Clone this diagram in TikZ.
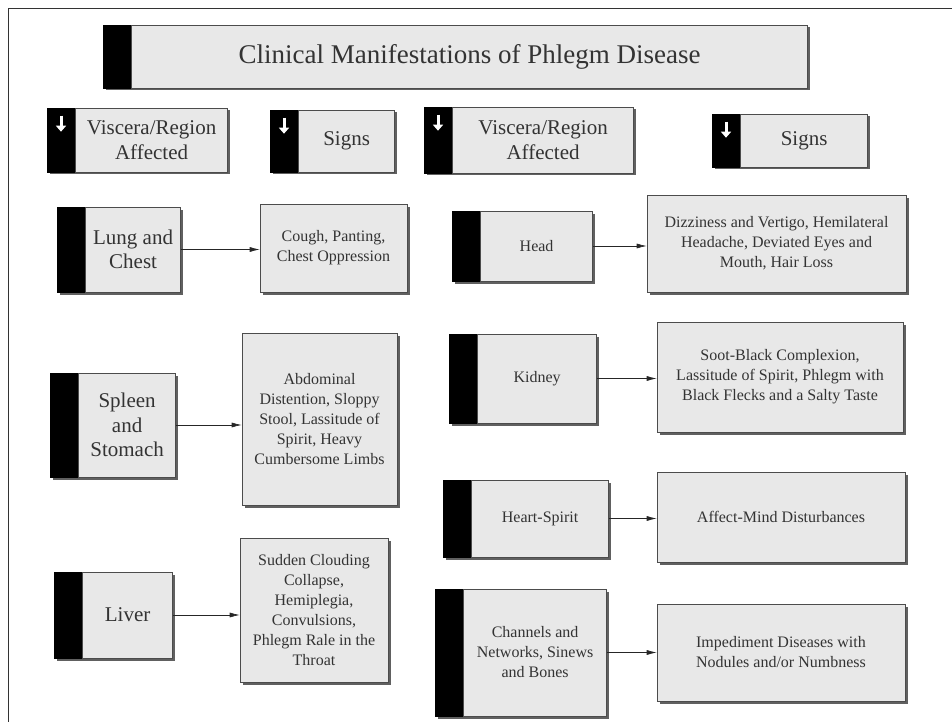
\documentclass[tikz,border=0pt]{standalone}
\usepackage{fontspec}
\setmainfont{Liberation Serif}
\usepackage{tikz}
\usetikzlibrary{arrows.meta,positioning,shadows}

\tikzset{
    card/.style={draw=gray!60!black, fill=gray!18, line width=0.6pt, inner sep=2pt, align=center,
        text=black!80, font=\fontsize{16}{20}\selectfont,
        drop shadow={shadow xshift=2.5pt, shadow yshift=-2.5pt, fill=gray!75!black, opacity=1}},
    tab/.style={draw=black, fill=black, line width=0.6pt, inner sep=0pt, minimum width=28pt,
        drop shadow={shadow xshift=2.5pt, shadow yshift=-2.5pt, fill=gray!75!black, opacity=1}},
    big/.style={font=\fontsize{21}{24.5}\selectfont},
    flow/.style={-{Latex[length=10pt,width=5pt]}, line width=0.6pt, black!85},
    tick/.style={white, line width=3pt, -{Triangle[length=6pt,width=10pt]}}
}

\begin{document}
\begin{tikzpicture}[x=1pt,y=-1pt]
    \useasboundingbox (0,0) rectangle (952,722);
    \draw[black!80, line width=0.8pt] (952,8) -- (8,8) -- (8,722);

    % title
    \node[tab, minimum height=63pt] (titlebar) at (117,56.5) {};
    \node[card, right=0pt of titlebar, minimum width=676pt, minimum height=63pt,
        font=\fontsize{27}{30}\selectfont] (title) {Clinical Manifestations of Phlegm Disease};

    % column heads
    \node[tab, minimum height=64pt] (h1bar) at (61,140) {};
    \node[card, big, right=0pt of h1bar, minimum width=152pt, minimum height=64pt] (h1) {Viscera/Region\\Affected};
    \node[tab, minimum height=62pt] (h2bar) at (284,141) {};
    \node[card, big, right=0pt of h2bar, minimum width=96pt, minimum height=62pt] (h2) {Signs};
    \node[tab, minimum height=66pt] (h3bar) at (438,140) {};
    \node[card, big, right=0pt of h3bar, minimum width=181pt, minimum height=66pt] (h3) {Viscera/Region\\Affected};
    \node[tab, minimum height=53pt] (h4bar) at (726,140.5) {};
    \node[card, big, right=0pt of h4bar, minimum width=127pt, minimum height=53pt] (h4) {Signs};
    \foreach \b in {h1bar,h2bar,h3bar,h4bar}
        \draw[tick] ([yshift=-8pt]\b.north) -- ++(0,-16pt);

    % left half
    \node[tab, minimum height=85pt] (lungbar) at (71,249.5) {};
    \node[card, big, right=0pt of lungbar, minimum width=95pt, minimum height=85pt] (lung) {Lung and\\Chest};
    \node[card, minimum width=147pt, minimum height=88pt] (cough) at (333.5,248) {Cough, Panting,\\Chest Oppression};

    \node[tab, minimum height=104pt] (spleenbar) at (64,425) {};
    \node[card, big, right=0pt of spleenbar, minimum width=97pt, minimum height=104pt] (spleen) {Spleen\\and\\Stomach};
    \node[card, minimum width=155pt, minimum height=172pt] (abdomen) at (319.5,419)
        {Abdominal\\Distention, Sloppy\\Stool, Lassitude of\\Spirit, Heavy\\Cumbersome Limbs};

    \node[tab, minimum height=86pt] (liverbar) at (68,615) {};
    \node[card, big, right=0pt of liverbar, minimum width=90pt, minimum height=86pt] (liver) {Liver};
    \node[card, minimum width=148pt, minimum height=144pt] (clouding) at (314,610)
        {Sudden Clouding\\Collapse,\\Hemiplegia,\\Convulsions,\\Phlegm Rale in the\\Throat};

    % right half
    \node[tab, minimum height=70pt] (headbar) at (466,246) {};
    \node[card, right=0pt of headbar, minimum width=112pt, minimum height=70pt] (head) {Head};
    \node[card, minimum width=259pt, minimum height=97pt] (dizzy) at (776.5,243.5)
        {Dizziness and Vertigo, Hemilateral\\Headache, Deviated Eyes and\\Mouth, Hair Loss};

    \node[tab, minimum height=89pt] (kidneybar) at (463,378.5) {};
    \node[card, right=0pt of kidneybar, minimum width=119pt, minimum height=89pt] (kidney) {Kidney};
    \node[card, minimum width=246pt, minimum height=110pt] (soot) at (780,377)
        {Soot-Black Complexion,\\Lassitude of Spirit, Phlegm with\\Black Flecks and a Salty Taste};

    \node[tab, minimum height=77pt] (heartbar) at (457,518.5) {};
    \node[card, right=0pt of heartbar, minimum width=137pt, minimum height=77pt] (heart) {Heart-Spirit};
    \node[card, minimum width=248pt, minimum height=90pt] (affect) at (781,517) {Affect-Mind Disturbances};

    \node[tab, minimum height=127pt] (channelbar) at (449,652.5) {};
    \node[card, right=0pt of channelbar, minimum width=143pt, minimum height=127pt] (channel)
        {Channels and\\Networks, Sinews\\and Bones};
    \node[card, minimum width=248pt, minimum height=97pt] (impede) at (781,652.5)
        {Impediment Diseases with\\Nodules and/or Numbness};

    % arrows
    \draw[flow] (lung.east) -- (lung.east -| cough.west);
    \draw[flow] (spleen.east) -- (spleen.east -| abdomen.west);
    \draw[flow] (liver.east) -- (liver.east -| clouding.west);
    \draw[flow] (head.east) -- (head.east -| dizzy.west);
    \draw[flow] (kidney.east) -- (kidney.east -| soot.west);
    \draw[flow] (heart.east) -- (heart.east -| affect.west);
    \draw[flow] (channel.east) -- (channel.east -| impede.west);
\end{tikzpicture}
\end{document}
